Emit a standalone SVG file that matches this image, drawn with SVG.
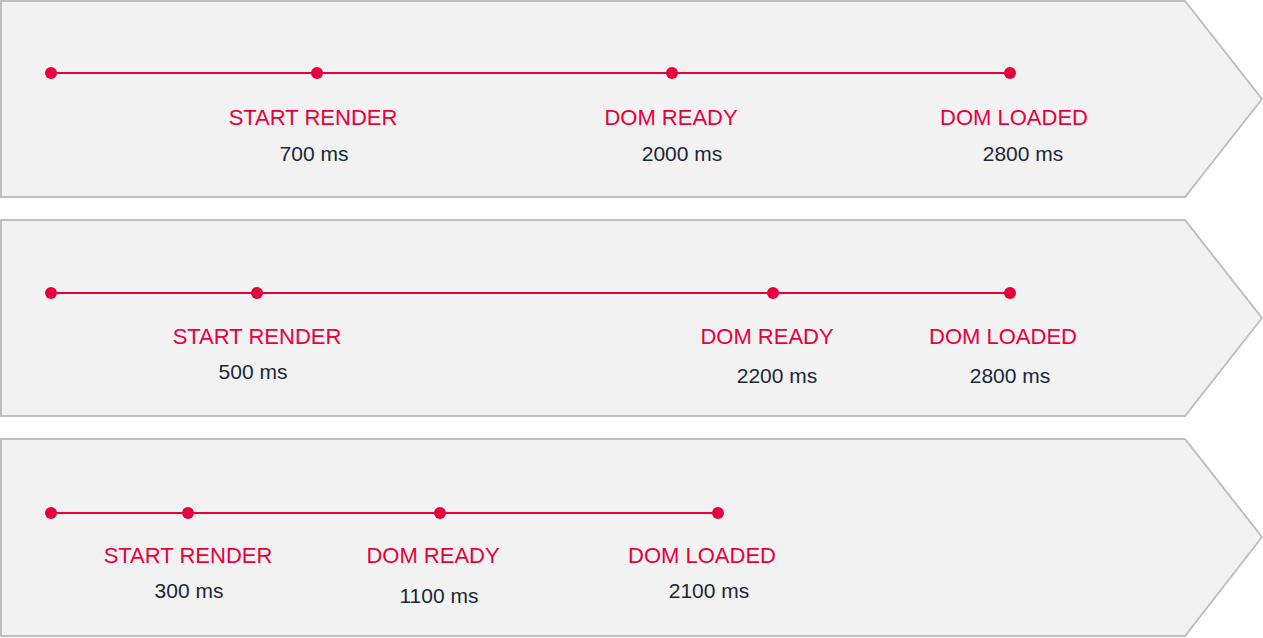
<svg xmlns="http://www.w3.org/2000/svg" width="1263" height="638" viewBox="0 0 1263 638">
<style>
.panel{fill:#f2f2f2;stroke:#bfbfbf;stroke-width:2}
.tl{stroke:#e8003d;stroke-width:2;fill:none}
.dot{fill:#e8003d}
.lbl{font-family:"Liberation Sans",Arial,sans-serif;font-size:22px;fill:#e8003d;text-anchor:middle}
.val{font-family:"Liberation Sans",Arial,sans-serif;font-size:21px;fill:#1b2738;text-anchor:middle}
</style>
<rect width="1263" height="638" fill="#ffffff"/>
<g id="panel1">
<polygon class="panel" points="1,1 1185,1 1262,99 1185,197 1,197"/>
</g>
<g id="panel2">
<polygon class="panel" points="1,220 1185,220 1262,318 1185,416 1,416"/>
</g>
<g id="panel3">
<polygon class="panel" points="1,439 1185,439 1262,537 1185,636 1,636"/>
</g>
<g id="connectors">
<line class="tl" x1="51" y1="73" x2="1010" y2="73"/>
<line class="tl" x1="51" y1="293" x2="1010" y2="293"/>
<line class="tl" x1="51" y1="513" x2="718" y2="513"/>
</g>
<g id="row1">
<circle class="dot" cx="51" cy="73" r="6"/>
<circle class="dot" cx="317" cy="73" r="6"/>
<circle class="dot" cx="672" cy="73" r="6"/>
<circle class="dot" cx="1010" cy="73" r="6"/>
<text class="lbl" x="313" y="125">START RENDER</text>
<text class="val" x="314" y="161">700 ms</text>
<text class="lbl" x="671" y="125">DOM READY</text>
<text class="val" x="682" y="161">2000 ms</text>
<text class="lbl" x="1014" y="125">DOM LOADED</text>
<text class="val" x="1023" y="161">2800 ms</text>
</g>
<g id="row2">
<circle class="dot" cx="51" cy="293" r="6"/>
<circle class="dot" cx="257" cy="293" r="6"/>
<circle class="dot" cx="773" cy="293" r="6"/>
<circle class="dot" cx="1010" cy="293" r="6"/>
<text class="lbl" x="257" y="344">START RENDER</text>
<text class="val" x="253" y="379">500 ms</text>
<text class="lbl" x="767" y="344">DOM READY</text>
<text class="val" x="777" y="383">2200 ms</text>
<text class="lbl" x="1003" y="344">DOM LOADED</text>
<text class="val" x="1010" y="383">2800 ms</text>
</g>
<g id="row3">
<circle class="dot" cx="51" cy="513" r="6"/>
<circle class="dot" cx="188" cy="513" r="6"/>
<circle class="dot" cx="440" cy="513" r="6"/>
<circle class="dot" cx="718" cy="513" r="6"/>
<text class="lbl" x="188" y="563">START RENDER</text>
<text class="val" x="189" y="598">300 ms</text>
<text class="lbl" x="433" y="563">DOM READY</text>
<text class="val" x="439" y="603">1100 ms</text>
<text class="lbl" x="702" y="563">DOM LOADED</text>
<text class="val" x="709" y="598">2100 ms</text>
</g>
</svg>
